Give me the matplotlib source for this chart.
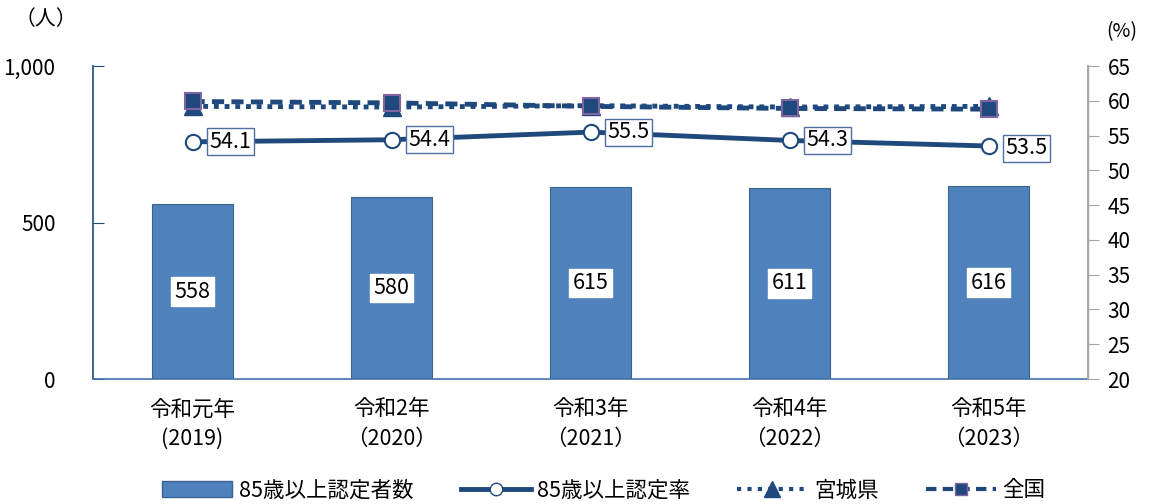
import matplotlib
matplotlib.use("Agg")
import matplotlib.pyplot as plt
from matplotlib.lines import Line2D
from matplotlib.patches import Patch

plt.rcParams['font.family'] = ['Noto Sans CJK JP', 'DejaVu Sans']

categories = ["令和元年\n(2019)", "令和2年\n（2020）", "令和3年\n（2021）", "令和4年\n（2022）", "令和5年\n（2023）"]
certified_count = [558, 580, 615, 611, 616]
certified_rate = [54.1, 54.4, 55.5, 54.3, 53.5]
miyagi_rate = [59.2, 59.1, 59.3, 59.1, 59.2]
national_rate = [59.9, 59.7, 59.2, 58.9, 58.8]

bar_color = "#4F81BD"
navy = "#1F497D"
purple = "#8064A2"

fig = plt.figure(figsize=(11.5, 5.04), dpi=100)
ax = fig.add_axes([0.0809, 0.248, 0.8652, 0.621])
ax2 = ax.twinx()

x = list(range(len(categories)))
ax.bar(x, certified_count, width=0.41, color=bar_color, edgecolor="#3A6391", linewidth=0.8, zorder=2)
for xi, v in zip(x, certified_count):
    ax.text(xi, v / 2, f"{v}", ha="center", va="center", fontsize=15.5, color="black",
            bbox=dict(boxstyle="square,pad=0.15", fc="white", ec="white"), zorder=3)

ax.set_xlim(-0.5, 4.5)
ax.set_ylim(0, 1000)
ax.set_yticks([0, 500, 1000])
ax.set_yticklabels(["0", "500", "1,000"])
ax.set_xticks(x)
ax.set_xticklabels(categories, fontsize=15.5, linespacing=1.45)
ax.tick_params(axis="x", length=0, pad=14)
ax.tick_params(axis="y", direction="in", length=8, color=navy, labelsize=15, pad=27)
for lbl in ax.get_yticklabels():
    lbl.set_horizontalalignment("right")

ax2.set_ylim(20, 65)
ax2.set_yticks(range(20, 66, 5))
ax2.tick_params(axis="y", direction="out", length=8, color="#A6A6A6", labelsize=15, pad=6)

ax.spines["top"].set_visible(False)
ax2.spines["top"].set_visible(False)
ax.spines["left"].set_color(navy)
ax.spines["bottom"].set_color("#4472A8")
ax2.spines["left"].set_visible(False)
ax2.spines["bottom"].set_visible(False)
ax2.spines["right"].set_color("#A6A6A6")
ax2.spines["right"].set_linewidth(1.5)
ax.spines["left"].set_linewidth(1.2)
ax.spines["bottom"].set_linewidth(1.2)

ax2.plot(x, miyagi_rate, linestyle=(0, (1, 1.2)), color=navy, linewidth=3.5,
         marker="^", markersize=13, markerfacecolor=navy, markeredgecolor=navy, zorder=4)
ax2.plot(x, national_rate, linestyle=(0, (2.5, 1.5)), color=navy, linewidth=3.5,
         marker="s", markersize=11, markerfacecolor=navy, markeredgecolor=purple,
         markeredgewidth=1.5, zorder=5)
ax2.plot(x, certified_rate, color=navy, linewidth=3.5, marker="o", markersize=11,
         markerfacecolor="white", markeredgecolor=navy, markeredgewidth=1.5, zorder=6)

for xi, v in zip(x, certified_rate):
    dy = -0.3 if xi == 4 else 0.0
    ax2.annotate(f"{v}", (xi, v + dy), xytext=(12, 0), textcoords="offset points",
                 ha="left", va="center", fontsize=15.5,
                 bbox=dict(boxstyle="square,pad=0.12", fc="white", ec="#4F6FA0", lw=1),
                 zorder=7)

fig.text(0.040, 0.962, "（人）", fontsize=15, ha="center", va="center")
fig.text(0.975, 0.938, "(%)", fontsize=14, ha="center", va="center")

handles = [
    Patch(facecolor=bar_color, edgecolor="#3A6391"),
    Line2D([], [], color=navy, lw=3.5, marker="o", markersize=9, markerfacecolor="white",
           markeredgecolor=navy),
    Line2D([], [], color=navy, lw=3, linestyle=(0, (1, 1.5)), marker="^", markersize=11,
           markerfacecolor=navy, markeredgecolor=navy),
    Line2D([], [], color=navy, lw=3, linestyle=(0, (2.5, 1.5)), marker="s", markersize=9,
           markerfacecolor=navy, markeredgecolor=purple),
]
labels = ["85歳以上認定者数", "85歳以上認定率", "宮城県", "全国"]
fig.legend(handles, labels, loc="center", bbox_to_anchor=(0.525, 0.027), ncol=4,
           frameon=False, fontsize=15.5, handlelength=3.25, handleheight=0.8,
           columnspacing=2.2, handletextpad=0.3)

fig.savefig("out.png", dpi=100)
